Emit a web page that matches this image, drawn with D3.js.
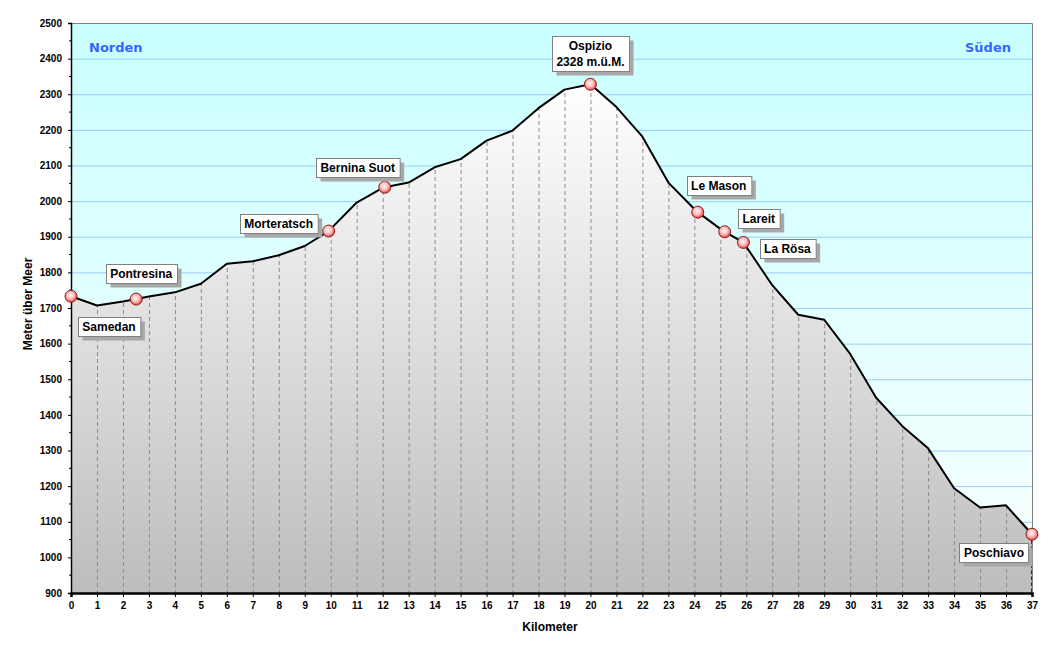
<!DOCTYPE html>
<html>
<head>
<meta charset="utf-8">
<script src="https://cdn.jsdelivr.net/npm/d3@7"></script>
<style>
  body { margin: 0; background: #fff; }
  svg { display: block; }
  .tick text { font-family: "Liberation Sans", Arial, sans-serif; font-weight: bold; font-size: 10px; }
</style>
</head>
<body>
<svg id="chart" width="1055" height="652"></svg>
<script>
// Profile samples, one per kilometre
const profileKm   = [0, 1, 2, 3, 4, 5, 6, 7, 8, 9, 10, 11, 12, 13, 14, 15, 16, 17, 18, 19, 20, 21, 22, 23, 24, 25, 26, 27, 28, 29, 30, 31, 32, 33, 34, 35, 36, 37];
const profileElev = [1733, 1707, 1718, 1732, 1744, 1768, 1824, 1831, 1848, 1874, 1922, 1996, 2037, 2052, 2095, 2118, 2170, 2198, 2261, 2313, 2328, 2264, 2181, 2052, 1978, 1922, 1872, 1764, 1681, 1667, 1571, 1448, 1369, 1306, 1194, 1140, 1146, 1065];

// Stations along the line
const stationNames = ['Samedan', 'Pontresina', 'Morteratsch', 'Bernina Suot', 'Ospizio', 'Le Mason', 'Lareit', 'La Rösa', 'Poschiavo'];
const stationKm    = [0, 2.51, 9.92, 12.08, 20, 24.13, 25.17, 25.89, 37];
const stationElev  = [1733, 1725, 1916, 2039, 2328, 1969, 1914, 1884, 1065];
const summitStation = 'Ospizio';

// Axis ticks
const yTicks = d3.range(900, 2501, 100);
const yMinorTicks = d3.range(950, 2500, 100);
const xTicks = d3.range(0, 38, 1);

// Label box placement relative to marker (layout only)
const labelOffsets = [[38, 30], [5, -26], [-50, -8], [-27, -20], [0, -31], [21, -27], [34, -13], [44, 6], [-38, 18]];

const margin = { left: 71, right: 1032, top: 23, bottom: 593 };
const svg = d3.select('#chart');

const x = d3.scaleLinear().domain([0, 37]).range([margin.left, margin.right]);
const y = d3.scaleLinear().domain([900, 2500]).range([margin.bottom, margin.top]);

// merge profile + stations for the path
const points = profileKm.map((k, i) => ({ km: k, elev: profileElev[i] }));
stationKm.forEach((k, i) => {
    if (!profileKm.includes(k)) points.push({ km: k, elev: stationElev[i] });
});
points.sort((a, b) => a.km - b.km);

const defs = svg.append('defs');

const skyGrad = defs.append('linearGradient').attr('id', 'sky')
    .attr('x1', 0).attr('y1', 0).attr('x2', 0).attr('y2', 1);
skyGrad.append('stop').attr('offset', '0%').attr('stop-color', '#c9ffff');
skyGrad.append('stop').attr('offset', '100%').attr('stop-color', '#fbffff');

const groundGrad = defs.append('linearGradient').attr('id', 'ground')
    .attr('gradientUnits', 'userSpaceOnUse')
    .attr('x1', 0).attr('y1', y(2328)).attr('x2', 0).attr('y2', margin.bottom);
groundGrad.append('stop').attr('offset', '0%').attr('stop-color', '#ffffff');
groundGrad.append('stop').attr('offset', '100%').attr('stop-color', '#bdbdbd');

const markerGrad = defs.append('radialGradient').attr('id', 'marker')
    .attr('cx', '45%').attr('cy', '42%').attr('r', '60%');
markerGrad.append('stop').attr('offset', '0%').attr('stop-color', '#fff4f4');
markerGrad.append('stop').attr('offset', '50%').attr('stop-color', '#ffc0c0');
markerGrad.append('stop').attr('offset', '100%').attr('stop-color', '#f03030');

const area = d3.area().x(d => x(d.km)).y0(margin.bottom).y1(d => y(d.elev));
const line = d3.line().x(d => x(d.km)).y(d => y(d.elev));

defs.append('clipPath').attr('id', 'groundClip')
    .append('path').attr('d', area(points));

// Plot background
svg.append('rect')
    .attr('x', margin.left).attr('y', margin.top)
    .attr('width', margin.right - margin.left).attr('height', margin.bottom - margin.top)
    .attr('fill', 'url(#sky)');

// Horizontal grid
svg.append('g').selectAll('line').data(yTicks.filter(t => t > 900 && t < 2500)).join('line')
    .attr('x1', margin.left).attr('x2', margin.right)
    .attr('y1', d => y(d) + 0.5).attr('y2', d => y(d) + 0.5)
    .attr('stroke', '#99ccff').attr('stroke-width', 1);

// Ground area
svg.append('path').attr('d', area(points)).attr('fill', 'url(#ground)');

// Vertical dashed km lines inside the area
svg.append('g').attr('clip-path', 'url(#groundClip)')
    .selectAll('line').data(xTicks.filter(t => t > 0 && t < 37)).join('line')
    .attr('x1', d => x(d) + 0.5).attr('x2', d => x(d) + 0.5)
    .attr('y1', margin.top).attr('y2', margin.bottom)
    .attr('stroke', '#8c8c8c').attr('stroke-width', 1).attr('stroke-dasharray', '4,3');

// right end dashed line
svg.append('line')
    .attr('x1', x(37)).attr('x2', x(37))
    .attr('y1', y(profileElev[profileElev.length - 1])).attr('y2', margin.bottom)
    .attr('stroke', '#000').attr('stroke-width', 1.5).attr('stroke-dasharray', '4,2');

// Frame (top/right)
svg.append('path')
    .attr('d', `M${margin.left},${margin.top + 0.5}H${margin.right + 0.5}V${margin.bottom}`)
    .attr('fill', 'none').attr('stroke', '#808080').attr('stroke-width', 1);

// Profile line
svg.append('path').attr('d', line(points))
    .attr('fill', 'none').attr('stroke', '#000').attr('stroke-width', 2).attr('stroke-linejoin', 'round');

// Y axis
const yAxis = svg.append('g').attr('transform', `translate(${margin.left},0)`)
    .call(d3.axisLeft(y).tickValues(yTicks).tickSize(3).tickPadding(6).tickFormat(d3.format('d')));
yAxis.select('.domain').attr('stroke', '#000').attr('stroke-width', 1.5);
yAxis.selectAll('.tick line').attr('stroke', '#000');
svg.append('g').selectAll('line').data(yMinorTicks).join('line')
    .attr('x1', margin.left - 2).attr('x2', margin.left)
    .attr('y1', d => y(d)).attr('y2', d => y(d))
    .attr('stroke', '#000');

// X axis
const xAxis = svg.append('g').attr('transform', `translate(0,${margin.bottom})`)
    .call(d3.axisBottom(x).tickValues(xTicks).tickSize(4).tickPadding(5).tickFormat(d3.format('d')));
xAxis.select('.domain').attr('stroke', '#000').attr('stroke-width', 2.5);
xAxis.selectAll('.tick line').attr('stroke', '#000');

// Axis titles
svg.append('text').attr('x', 550).attr('y', 631).attr('text-anchor', 'middle')
    .attr('font-family', '"Liberation Sans", Arial, sans-serif').attr('font-weight', 'bold').attr('font-size', 12)
    .text('Kilometer');
svg.append('text').attr('transform', 'translate(32,304) rotate(-90)').attr('text-anchor', 'middle')
    .attr('font-family', '"Liberation Sans", Arial, sans-serif').attr('font-weight', 'bold').attr('font-size', 12)
    .text('Meter über Meer');

// Direction labels
svg.append('text').attr('x', 89).attr('y', 52)
    .attr('font-family', '"DejaVu Sans", Verdana, sans-serif').attr('font-weight', 'bold').attr('font-size', 13)
    .attr('fill', '#3366ff').text('Norden');
svg.append('text').attr('x', 1011).attr('y', 52).attr('text-anchor', 'end')
    .attr('font-family', '"DejaVu Sans", Verdana, sans-serif').attr('font-weight', 'bold').attr('font-size', 13)
    .attr('fill', '#3366ff').text('Süden');

// Station markers
svg.append('g').selectAll('circle').data(stationKm).join('circle')
    .attr('cx', d => x(d)).attr('cy', (d, i) => y(stationElev[i]))
    .attr('r', 6)
    .attr('fill', 'url(#marker)').attr('stroke', '#8a2020').attr('stroke-width', 1);

// Station labels
const labels = svg.append('g').selectAll('g.label').data(stationNames).join('g').attr('class', 'label');
labels.each(function (name, i) {
    const g = d3.select(this);
    const lines = name === summitStation ? [name, `${stationElev[i]} m.ü.M.`] : [name];
    const cx = x(stationKm[i]) + labelOffsets[i][0];
    const cy = y(stationElev[i]) + labelOffsets[i][1];
    const lineH = 16;
    const shadow = g.append('rect');
    const box = g.append('rect');
    const texts = g.selectAll('text').data(lines).join('text')
        .attr('x', cx).attr('text-anchor', 'middle')
        .attr('y', (d, j) => cy + 4.5 + (j - (lines.length - 1) / 2) * lineH)
        .attr('font-family', '"Liberation Sans", Arial, sans-serif').attr('font-weight', 'bold').attr('font-size', 12)
        .text(d => d);
    const w = d3.max(texts.nodes(), n => n.getComputedTextLength()) + 9;
    const h = lines.length * lineH + 3;
    const bx = Math.round(cx - w / 2) + 0.5, by = Math.round(cy - h / 2) + 0.5;
    shadow.attr('x', bx + 4).attr('y', by + 4).attr('width', w).attr('height', h).attr('fill', '#a8a8a8');
    box.attr('x', bx).attr('y', by).attr('width', w).attr('height', h)
        .attr('fill', '#fff').attr('stroke', '#808080').attr('stroke-width', 1);
});
</script>
</body>
</html>
